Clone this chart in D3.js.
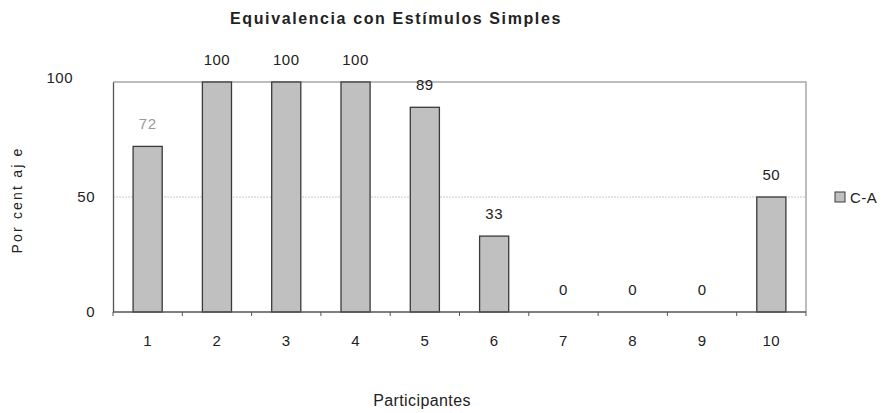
<!DOCTYPE html>
<html>
<head>
<meta charset="utf-8">
<script src="https://cdn.jsdelivr.net/npm/d3@7"></script>
<style>
  body { margin: 0; background: #fff; }
  text { font-family: "Liberation Sans", Arial, sans-serif; }
</style>
</head>
<body>
<svg id="chart" width="888" height="413"></svg>
<script>
// Participants and their C-A equivalence percentage
const participants = ["1", "2", "3", "4", "5", "6", "7", "8", "9", "10"];
const valuesCA = [72, 100, 100, 100, 89, 33, 0, 0, 0, 50];
const yTicks = [0, 50, 100];
const seriesName = "C-A";

const svg = d3.select("#chart");
const margin = { left: 113, right: 82, top: 82, bottom: 101 };
const W = 888, H = 413;

const x = d3.scaleBand().domain(participants)
  .range([margin.left, W - margin.right]).paddingInner(0.58).paddingOuter(0.29);
const xb = d3.scaleBand().domain(participants).range([margin.left, W - margin.right]);
const y = d3.scaleLinear().domain([0, 100]).range([H - margin.bottom, margin.top]);

// Frame (top and right edges)
svg.append("path")
  .attr("d", `M${margin.left},${margin.top}H${W - margin.right}V${H - margin.bottom}`)
  .attr("fill", "none").attr("stroke", "#a8a8a8").attr("stroke-width", 1.5);

// Gridline at 50
svg.append("line")
  .attr("x1", margin.left).attr("x2", W - margin.right)
  .attr("y1", y(50)).attr("y2", y(50))
  .attr("stroke", "#c8c8c8").attr("stroke-width", 1).attr("stroke-dasharray", "2,1");

// Bars
svg.selectAll("rect.bar").data(valuesCA).join("rect")
  .attr("class", "bar")
  .attr("x", (d, i) => x(participants[i]))
  .attr("width", x.bandwidth())
  .attr("y", d => y(d))
  .attr("height", d => y(0) - y(d))
  .attr("fill", "#c0c0c0").attr("stroke", "#3a3a3a").attr("stroke-width", 1.3);

// Value labels
svg.selectAll("text.val").data(valuesCA).join("text")
  .attr("class", "val")
  .attr("x", (d, i) => x(participants[i]) + x.bandwidth() / 2)
  .attr("y", d => y(d) - 17)
  .attr("text-anchor", "middle")
  .attr("font-size", 15).attr("letter-spacing", 0.5)
  .attr("fill", (d, i) => i === 0 ? "#999" : "#222")
  .text(d => d);

// Y axis
const yAxis = svg.append("g").attr("transform", `translate(${margin.left},0)`)
  .call(d3.axisLeft(y).tickValues(yTicks).tickSize(0).tickPadding(18));
yAxis.select(".domain").attr("stroke", "#555").attr("stroke-width", 1.3);
yAxis.selectAll("text")
  .attr("font-size", 15).attr("letter-spacing", 0.5).attr("fill", "#222")
  .attr("dx", d => d === 100 ? -22 : 0)
  .attr("dy", d => d === 100 ? "0" : "0.32em")
  .style("font-family", "Liberation Sans, Arial, sans-serif");

// X axis with ticks at category boundaries
const xAxisG = svg.append("g").attr("transform", `translate(0,${H - margin.bottom})`);
xAxisG.append("line")
  .attr("x1", margin.left).attr("x2", W - margin.right)
  .attr("stroke", "#555").attr("stroke-width", 1.3);
const bounds = participants.map(p => xb(p)).concat([W - margin.right]);
xAxisG.selectAll("line.tick").data(bounds).join("line")
  .attr("class", "tick")
  .attr("x1", d => d).attr("x2", d => d).attr("y1", 0).attr("y2", 4)
  .attr("stroke", "#555").attr("stroke-width", 1);
xAxisG.selectAll("text").data(participants).join("text")
  .attr("x", d => xb(d) + xb.bandwidth() / 2)
  .attr("y", 34)
  .attr("text-anchor", "middle")
  .attr("font-size", 15).attr("letter-spacing", 0.5).attr("fill", "#222")
  .text(d => d);

// Titles
svg.append("text").attr("x", 396).attr("y", 24).attr("text-anchor", "middle")
  .attr("font-size", 16).attr("font-weight", "bold").attr("fill", "#222")
  .attr("letter-spacing", 1.6)
  .text("Equivalencia con Estímulos Simples");
svg.append("text").attr("x", 422).attr("y", 406).attr("text-anchor", "middle")
  .attr("font-size", 16).attr("fill", "#222").attr("letter-spacing", 0.4)
  .text("Participantes");
svg.append("text")
  .attr("transform", "translate(22,200) rotate(-90)")
  .attr("text-anchor", "middle").attr("font-size", 14).attr("fill", "#222")
  .attr("letter-spacing", 2.2)
  .text("Por cent aj e");

// Legend
const lg = svg.append("g").attr("transform", "translate(835,192)");
lg.append("rect").attr("width", 10).attr("height", 10)
  .attr("fill", "#c0c0c0").attr("stroke", "#3a3a3a").attr("stroke-width", 1);
lg.append("text").attr("x", 15).attr("y", 10.5).attr("font-size", 15).attr("fill", "#222")
  .attr("letter-spacing", 0.5)
  .text(seriesName);
</script>
</body>
</html>
